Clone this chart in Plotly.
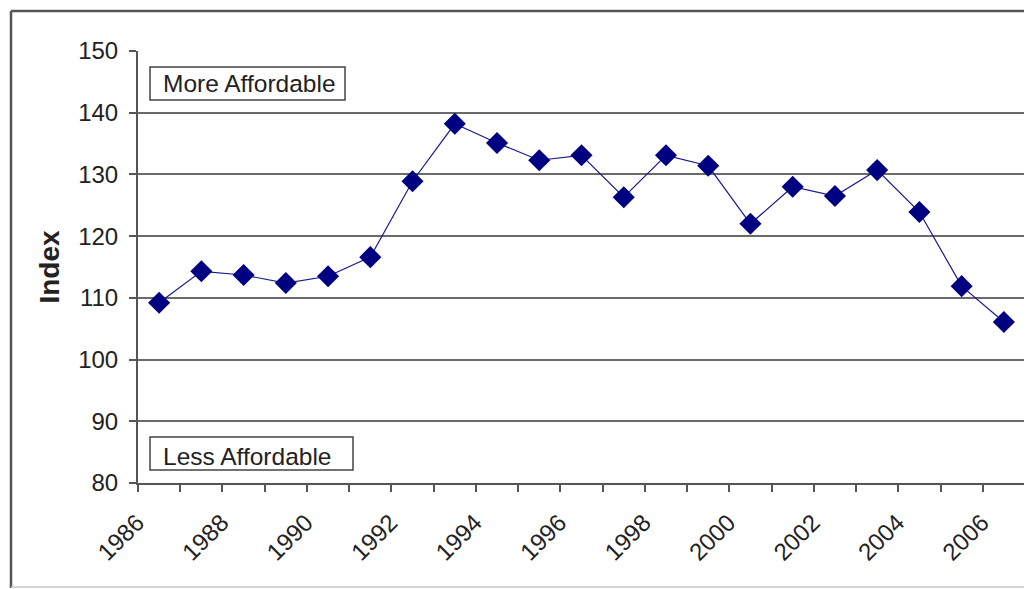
import plotly.graph_objects as go

years = list(range(1986, 2007))
index_values = [109.2, 114.3, 113.7, 112.4, 113.5, 116.6, 128.9, 138.2, 135.1, 132.3,
                133.1, 126.3, 133.1, 131.4, 122.0, 128.0, 126.5, 130.7, 123.9, 111.9, 106.1]
label_years = list(range(1986, 2007, 2))
y_ticks = list(range(80, 151, 10))

W, H = 1032, 589
OFF = 8  # page body margin
L, R, T, B = 138 - OFF, 1025 - OFF, 51 - OFF, 483 - OFF
pw, ph = R - L, B - T

def px(x):
    return (x - OFF - L) / pw

def py(y):
    return (B - (y - OFF)) / ph

fig = go.Figure()
fig.add_trace(go.Scatter(
    x=years, y=index_values, mode="lines+markers",
    line=dict(color="#1a1a90", width=1.2),
    marker=dict(symbol="diamond", size=17, color="#000080"),
    showlegend=False,
))

font = "Liberation Sans, Arial, sans-serif"
fig.update_layout(
    width=W, height=H,
    margin=dict(l=L, r=W - R, t=T, b=H - B),
    paper_bgcolor="white", plot_bgcolor="white",
    font=dict(family=font, size=24, color="#222"),
    xaxis=dict(
        range=[1985.5, 2006.5],
        tickmode="array", tickvals=label_years, ticktext=[str(y) for y in label_years],
        tickangle=-45, ticks="", showgrid=False, zeroline=False,
        showline=True, linecolor="#555", linewidth=2,
        ticklabelshift=-22, ticklabelstandoff=14,
        minor=dict(tickmode="linear", tick0=1985.5, dtick=1, ticks="outside",
                   ticklen=7, tickcolor="#555", tickwidth=2, showgrid=False),
        tickfont=dict(size=24),
    ),
    yaxis=dict(
        range=[80, 150], tickmode="array", tickvals=y_ticks,
        ticks="outside", ticklen=7, tickcolor="#555", tickwidth=2,
        showgrid=True, gridcolor="#6a6a6a", gridwidth=1.5, zeroline=False,
        showline=True, linecolor="#555", linewidth=2,
        ticklabelstandoff=6,
        title=dict(text="<b>Index</b>", font=dict(size=28), standoff=10),
        tickfont=dict(size=24),
    ),
    shapes=[
        dict(type="line", xref="paper", yref="paper", x0=1, x1=1, y0=0, y1=1,
             line=dict(color="#c8c8c8", width=2)),
        dict(type="rect", xref="paper", yref="paper", x0=px(150), x1=px(345), y0=py(100), y1=py(67),
             line=dict(color="#444", width=1.5)),
        dict(type="rect", xref="paper", yref="paper", x0=px(150), x1=px(353), y0=py(470), y1=py(437),
             line=dict(color="#444", width=1.5)),
        dict(type="line", xref="paper", yref="paper", x0=px(11), x1=px(11), y0=py(588), y1=py(11),
             line=dict(color="#555", width=2.5)),
        dict(type="line", xref="paper", yref="paper", x0=px(11), x1=px(1045), y0=py(11), y1=py(11),
             line=dict(color="#555", width=2.5)),
        dict(type="line", xref="paper", yref="paper", x0=px(11), x1=px(1045), y0=py(587), y1=py(587),
             line=dict(color="#c8c8c8", width=1.5)),
    ],
    annotations=[
        dict(text="More Affordable", xref="paper", yref="paper", x=px(161), y=py(84),
             xanchor="left", yanchor="middle", showarrow=False, font=dict(size=24.5)),
        dict(text="Less Affordable", xref="paper", yref="paper", x=px(161), y=py(456),
             xanchor="left", yanchor="middle", showarrow=False, font=dict(size=24.5)),
    ],
)

fig.write_html("out.html")
